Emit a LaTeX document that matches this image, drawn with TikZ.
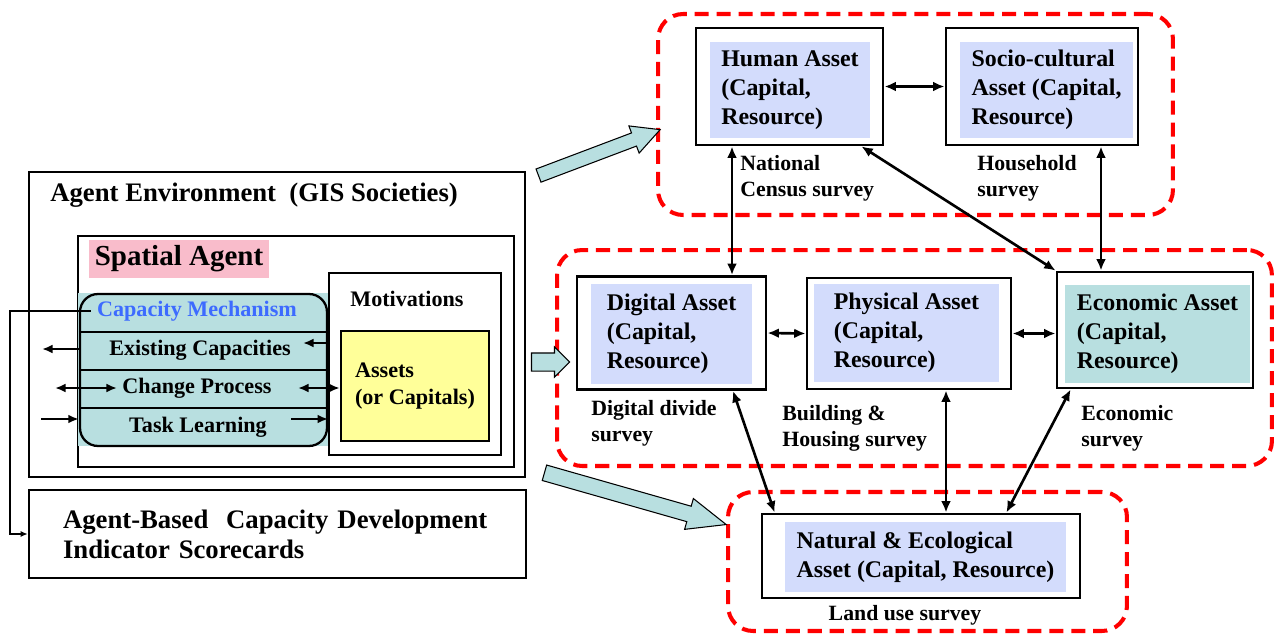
\documentclass[tikz,border=0pt]{standalone}
\usepackage{fontspec}
\setmainfont{Liberation Serif}
\usetikzlibrary{arrows.meta,shapes.arrows}
\definecolor{lavender}{HTML}{D3DCFC}
\definecolor{paleteal}{HTML}{B8DFE0}
\definecolor{softpink}{HTML}{F9BCCB}
\definecolor{paleyellow}{HTML}{FFFF99}
\definecolor{mechblue}{HTML}{3D6BFF}
\newcommand{\bigfont}{\fontsize{15.2}{17}\selectfont\bfseries}
\newcommand{\boxfont}{\fontsize{13.6}{16.4}\selectfont\bfseries}
\newcommand{\rowfont}{\fontsize{12.6}{15.6}\selectfont\bfseries}
\newcommand{\surveyfont}{\fontsize{12.4}{14.7}\selectfont\bfseries}

\begin{document}
\begin{tikzpicture}[x=0.02cm,y=-0.02cm,
    frame/.style={draw,line width=1.6pt,fill=white,inner sep=0},
    fillbox/.style={inner sep=0,align=left,font=\boxfont},
    zone/.style={draw=red,line width=2.3pt,dash pattern=on 8pt off 4.5pt,
        rounded corners=0.5cm,inner sep=0},
    survey/.style={anchor=west,align=left,inner sep=0,font=\surveyfont},
    link/.style={line width=1.5pt,
        {Latex[length=6.5pt,width=5.5pt]}-{Latex[length=6.5pt,width=5.5pt]}},
    tick/.style={line width=1.3pt,-{Latex[length=6pt,width=5pt]}},
    ticks/.style={line width=1.3pt,
        {Latex[length=6pt,width=5pt]}-{Latex[length=6pt,width=5pt]}},
    fat/.style={single arrow,draw,fill=paleteal,line width=0.6pt,inner xsep=0}]

\useasboundingbox (0,0) rectangle (1274,635);

% survey zones
\node[zone,minimum width=10.3cm,minimum height=4.02cm] (humanzone) at (915.5,114.5) {};
\node[zone,minimum width=14.3cm,minimum height=4.32cm] (assetzone) at (914.5,358) {};
\node[zone,minimum width=7.98cm,minimum height=2.78cm] (naturezone) at (927.5,561.5) {};

% agent environment
\node[draw,line width=1.6pt,minimum width=9.92cm,minimum height=6.1cm] (env) at (277,324.5) {};
\node[anchor=west,inner sep=0,font=\bigfont] (envtitle) at (50,195)
    {Agent Environment\ \ (GIS Societies)};
\node[draw,line width=1.1pt,minimum width=8.72cm,minimum height=4.62cm] (spatial) at (296,351.5) {};
\node[fill=softpink,minimum width=3.52cm,minimum height=0.76cm,
    font=\fontsize{16.5}{18}\selectfont\bfseries] (spatialtag) at (179,259) {Spatial Agent};

% capacity mechanism
\node[fill=paleteal,minimum width=5cm,minimum height=3.06cm] (capbg) at (203,369.5) {};
\node[draw,line width=1.3pt,rounded corners=0.36cm,minimum width=4.94cm,
    minimum height=3.04cm] (capbox) at (203.5,370) {};
\foreach \y in {332,370,408}
    \draw[line width=1.5pt] (capbox.west |- 0,\y) -- (capbox.east |- 0,\y);
\node[font=\rowfont,text=mechblue] (capmech) at (197,311) {Capacity Mechanism};
\node[font=\rowfont] (existing) at (200,350) {Existing Capacities};
\node[font=\rowfont] (change) at (197,388) {Change Process};
\node[font=\rowfont] (task) at (198,427) {Task Learning};

% motivations
\node[draw,line width=1.1pt,minimum width=3.44cm,minimum height=3.64cm] (motiv) at (415,364) {};
\node[anchor=west,inner sep=0,font=\rowfont] (motivtitle) at (350,299) {Motivations};
\node[draw,line width=1.4pt,fill=paleyellow,minimum width=2.96cm,minimum height=2.2cm,
    align=left,font=\rowfont] (assets) at (415,386)
    {Assets\\(or Capitals)};

% small arrows
\coordinate (exout) at (42,349);
\coordinate (exin) at (303,343);
\coordinate (chout) at (55,388);
\coordinate (chin) at (117,388);
\coordinate (chmid) at (298,388);
\coordinate (tkout) at (41,419);
\coordinate (tkmid) at (291,419);
\draw[tick] (capbox.west |- exout) -- (exout);
\draw[tick] (motiv.west |- exin) -- (exin);
\draw[ticks] (chout) -- (chin);
\draw[ticks] (chmid) -- (assets.west |- chmid);
\draw[tick] (tkout) -- (capbox.west |- tkout);
\draw[tick] (tkmid) -- (capbox.east |- tkmid);

% scorecards
\node[draw,line width=1.6pt,minimum width=9.94cm,minimum height=1.76cm,text width=8.58cm,
    inner xsep=0.68cm,align=left,font=\bigfont] (score) at (277.5,534)
    {Agent-Based\ \ Capacity Development\\Indicator Scorecards};
\coordinate (fbx) at (10,0);
\draw[line width=0.7pt,-{Latex[length=4pt,width=3.5pt]}] (capmech.west)
    -- (capmech.west -| fbx) |- (score.west);

% assets
\node[frame,minimum width=3.74cm,minimum height=2.34cm] (human) at (789.5,86.5) {};
\node[fillbox,fill=lavender,minimum width=3.2cm,minimum height=1.92cm] (humanin) at (790,90)
    {Human Asset\\(Capital,\\Resource)};
\node[frame,minimum width=3.84cm,minimum height=2.34cm] (socio) at (1042,86.5) {};
\node[fillbox,fill=lavender,minimum width=3.46cm,minimum height=1.92cm] (socioin) at (1046.5,90)
    {Socio-cultural\\Asset (Capital,\\Resource)};
\node[frame,minimum width=3.78cm,minimum height=2.26cm] (digital) at (671.5,333) {};
\node[fillbox,fill=lavender,minimum width=3.22cm,minimum height=2.0cm] (digitalin) at (671.5,334)
    {Digital Asset\\(Capital,\\Resource)};
\node[frame,minimum width=4.08cm,minimum height=2.22cm] (physical) at (909,333.5) {};
\node[fillbox,fill=lavender,minimum width=3.7cm,minimum height=1.96cm] (physicalin) at (906.5,333)
    {Physical Asset\\(Capital,\\Resource)};
\node[frame,minimum width=3.92cm,minimum height=2.32cm] (economic) at (1155,330) {};
\node[fillbox,fill=paleteal,minimum width=3.7cm,minimum height=1.96cm] (economicin) at (1157.5,334)
    {Economic Asset\\(Capital,\\Resource)};
\node[frame,minimum width=6.36cm,minimum height=1.68cm] (natural) at (921,556) {};
\node[fillbox,fill=lavender,minimum width=5.62cm,minimum height=1.4cm] (naturalin) at (925.5,557)
    {Natural \& Ecological\\Asset (Capital, Resource)};

% survey labels
\node[survey] (censuslbl) at (740,178) {National\\Census survey};
\node[survey] (householdlbl) at (977,178) {Household\\survey};
\node[survey] (digitallbl) at (591,423.5) {Digital divide\\survey};
\node[survey] (buildinglbl) at (782,428.5) {Building \&\\Housing survey};
\node[survey] (economiclbl) at (1081,428.5) {Economic\\survey};
\node[inner sep=0,font=\surveyfont] (landlbl) at (905,615) {Land use survey};

% links
\coordinate (colHD) at (732,0);
\coordinate (colSE) at (1101,0);
\coordinate (colPN) at (946,0);
\draw[link] (human.east) -- (socio.west);
\draw[link] (human.south -| colHD) -- (digital.north -| colHD);
\draw[link] (socio.south -| colSE) -- (economic.north -| colSE);
\draw[link] ([xshift=-0.46cm]human.south east) -- (economic.north west);
\draw[link] (digital.east) -- (physical.west);
\draw[link] (physical.east) -- (physical.east -| economic.west);
\draw[link] ([xshift=1.23cm]digital.south) -- ([xshift=0.28cm]natural.north west);
\draw[link] (physical.south -| colPN) -- (natural.north -| colPN);
\draw[link] ([xshift=0.3cm]economic.south west) -- ([xshift=-1.5cm]natural.north east);

% fat arrows
\node[fat,minimum height=2.6cm,inner ysep=0.13cm,single arrow head extend=0.15cm,
    single arrow tip angle=55,rotate=20.7] (fatup) at (593,155) {};
\node[fat,minimum height=0.76cm,inner ysep=0.17cm,single arrow head extend=0.12cm]
    (fatmid) at (546,362) {};
\node[fat,minimum height=3.78cm,inner ysep=0.15cm,single arrow head extend=0.16cm,
    single arrow tip angle=45,rotate=-15.9] (fatdown) at (626,496) {};

\end{tikzpicture}
\end{document}
